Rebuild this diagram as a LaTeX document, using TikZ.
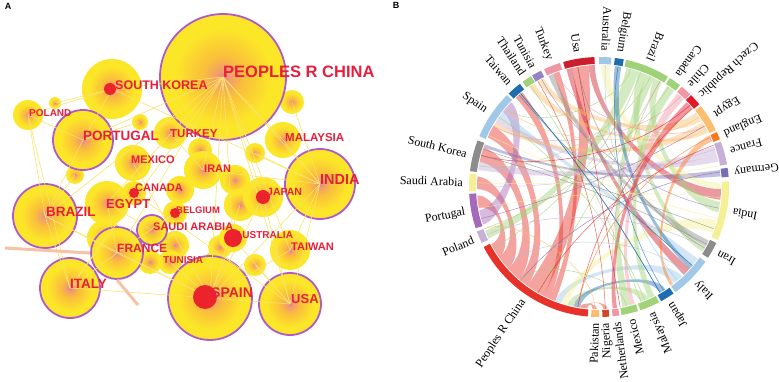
\documentclass[tikz,border=0pt]{standalone}
\usepackage{fontspec}
\setmainfont{Liberation Serif}
\setsansfont{Liberation Sans}
\usepackage{tikz}
\usetikzlibrary{calc}

\definecolor{labred}{RGB}{232,30,60}
\definecolor{ringpurple}{RGB}{175,90,200}
\definecolor{ballyellow}{RGB}{252,230,40}
\definecolor{ballrim}{RGB}{255,240,80}
\definecolor{ballpink}{RGB}{228,115,170}
\definecolor{ballorange}{RGB}{250,190,60}
\definecolor{dotred}{RGB}{235,35,45}
\definecolor{edgeyellow}{RGB}{250,228,105}
\definecolor{edgesalmon}{RGB}{245,195,165}

\definecolor{cUsa}{RGB}{205,30,45}
\definecolor{cLightBlue}{RGB}{160,200,232}
\definecolor{cDarkBlue}{RGB}{30,110,175}
\definecolor{cGreen}{RGB}{160,210,120}
\definecolor{cPink}{RGB}{240,150,165}
\definecolor{cRed}{RGB}{225,25,40}
\definecolor{cLtOrange}{RGB}{250,190,110}
\definecolor{cOrange}{RGB}{250,120,30}
\definecolor{cLtPurple}{RGB}{200,175,215}
\definecolor{cPurple}{RGB}{120,110,180}
\definecolor{cYellow}{RGB}{245,240,150}
\definecolor{cGray}{RGB}{140,140,140}
\definecolor{cChina}{RGB}{230,50,40}
\definecolor{cPortugal}{RGB}{165,105,185}
\definecolor{cNigeria}{RGB}{210,70,40}
\definecolor{cTunisia}{RGB}{150,130,195}

\pgfdeclareradialshading{citeball}{\pgfpoint{0bp}{0bp}}{color(0bp)=(ballpink); color(2bp)=(ballpink!50!ballorange); color(8bp)=(ballorange); color(19bp)=(ballyellow); color(46bp)=(ballyellow); color(50bp)=(ballrim)}

% sector of the chord ring: start, end, colour, name, text
\newcommand{\sector}[5]{%
  \draw[line width=7pt, #3] (#1:126.5) arc[start angle=#1, end angle=#2, radius=126.5];
  \node[chordlabel, rotate={(#1+#2)/2+180}] (#4) at ({(#1+#2)/2}:136) {#5};}
% ribbon between two sectors
\newcommand{\chord}[5]{%
  \pgfmathsetmacro{\chdist}{abs(mod(#3-#2+540,360)-180)}%
  \pgfmathsetmacro{\chrad}{118-0.52*\chdist}%
  \fill[#5, fill opacity=0.45] (#1:122) arc[start angle=#1, end angle=#2, radius=122]
    .. controls (#2:\chrad) and (#3:\chrad) .. (#3:122) arc[start angle=#3, end angle=#4, radius=122]
    .. controls (#4:\chrad) and (#1:\chrad) .. (#1:122) -- cycle;}
\newcommand{\chordline}[3]{%
  \pgfmathsetmacro{\chdist}{abs(mod(#2-#1+540,360)-180)}%
  \pgfmathsetmacro{\chrad}{118-0.52*\chdist}%
  \draw[#3, line width=0.5pt, opacity=0.75] (#1:122) .. controls (#1:\chrad) and (#2:\chrad) .. (#2:122);}

\tikzset{
  ball/.style={circle, shade, shading=citeball, inner sep=0pt, minimum size=2*#1},
  hub/.style={ball=#1, draw=ringpurple, line width=1.8pt},
  edge/.style={edgeyellow, line width=0.6pt},
  cntlabel/.style={text=labred, inner sep=0pt, anchor=west, font=\sffamily\bfseries\fontsize{#1}{#1}\selectfont},
  chordlabel/.style={anchor=east, inner sep=0pt, font=\fontsize{12}{12}\selectfont},
  panel/.style={font=\sffamily\bfseries\fontsize{9}{9}\selectfont, inner sep=0pt}
}

\begin{document}
\begin{tikzpicture}[x=1pt,y=1pt]
\useasboundingbox (0,0) rectangle (779,381);

\node[panel] (pa) at (8,375) {A};
\node[panel] (pb) at (396,376) {B};

% A: collaboration network
\begin{scope}[shift={(0,381)}, yscale=-1]
\node[ball=6] (y1) at (55,103) {};
\node[ball=12] (y2) at (292,102) {};
\node[ball=8] (y3) at (140,122) {};
\node[ball=10] (y4) at (255,153) {};
\node[ball=15] (y5) at (235,180) {};
\node[ball=9] (y6) at (75,175) {};
\node[ball=12] (y7) at (200,150) {};
\node[ball=14] (y8) at (180,190) {};
\node[ball=11] (y9) at (255,265) {};
\node[ball=14] (y10) at (175,245) {};
\node[ball=12] (y11) at (220,247) {};
\node[ball=18] (y12) at (105,238) {};
\node[ball=12] (y13) at (150,262) {};
\node[ball=16] (y14) at (240,205) {};
\node[ball=10] (y15) at (213,262) {};

\node[ball=30] (skorea) at (112,89) {};
\node[ball=15] (poland) at (28,115) {};
\node[ball=20] (taiwan) at (290,250) {};
\node[ball=18] (malaysia) at (283,140) {};
\node[ball=20] (japan) at (263,197) {};
\node[ball=14] (australia) at (233,238) {};
\node[ball=12] (canada) at (134,193) {};
\node[ball=12] (belgium) at (175,213) {};
\node[ball=19] (iran) at (203,170) {};
\node[ball=18] (mexico) at (133,163) {};
\node[ball=16] (turkey) at (170,133) {};
\node[ball=22] (egypt) at (107,203) {};
\node[ball=12] (tunisia) at (170,262) {};

\node[hub=63] (china) at (223,77) {};
\node[hub=30] (portugal) at (83,140) {};
\node[hub=32] (brazil) at (45,216) {};
\node[hub=15] (saudi) at (152,230) {};
\node[hub=26] (france) at (117,253) {};
\node[hub=30] (italy) at (70,288) {};
\node[hub=42] (spain) at (210,298) {};
\node[hub=31] (usa) at (290,304) {};
\node[hub=35] (india) at (320,184) {};

\coordinate (wleft) at (5,248);
\coordinate (wlow) at (138,305);

\foreach \a/\b in {china/spain, china/usa, china/india, china/skorea, china/portugal,
    china/brazil, china/italy, china/japan, china/malaysia, china/taiwan, china/australia,
    china/iran, china/egypt, china/france, spain/usa, spain/italy, spain/france, spain/brazil,
    spain/india, spain/japan, spain/taiwan, india/usa, india/malaysia, india/skorea,
    portugal/brazil, portugal/poland, poland/brazil, poland/skorea, poland/italy, brazil/italy,
    brazil/france, italy/france, skorea/portugal, usa/japan, taiwan/india, egypt/saudi,
    egypt/france, iran/india, mexico/spain, tunisia/spain, turkey/iran, canada/usa,
    belgium/france, australia/usa, australia/spain, y2/india, y6/brazil, y12/italy,
    y9/usa, y14/spain, y4/india, y1/skorea, y3/portugal}
  \draw[edge] (\a.center) -- (\b.center);
\draw[edgesalmon, line width=3pt] (wleft) -- (france.west);
\draw[edgesalmon, line width=3pt] (france.south) -- (wlow);

\fill[dotred] (110,89) circle[radius=6];
\fill[dotred] (263,197) circle[radius=7];
\fill[dotred] (233,238) circle[radius=9];
\fill[dotred] (134,193) circle[radius=5];
\fill[dotred] (175,213) circle[radius=5];
\fill[dotred] (205,297) circle[radius=12];

\node[cntlabel=16.5] (lchina) at (223,72) {PEOPLES R CHINA};
\node[cntlabel=12.5] (lskorea) at (115,85) {SOUTH KOREA};
\node[cntlabel=10] (lpoland) at (29,113) {POLAND};
\node[cntlabel=13.5] (lportugal) at (83,136) {PORTUGAL};
\node[cntlabel=11.5] (lturkey) at (170,134) {TURKEY};
\node[cntlabel=11.5] (lmalaysia) at (285,138) {MALAYSIA};
\node[cntlabel=11] (lmexico) at (131,160) {MEXICO};
\node[cntlabel=11] (liran) at (204,169) {IRAN};
\node[cntlabel=14.5] (lindia) at (320,180) {INDIA};
\node[cntlabel=11] (lcanada) at (135,188) {CANADA};
\node[cntlabel=10.5] (ljapan) at (267,192) {JAPAN};
\node[cntlabel=13] (legypt) at (106,204) {EGYPT};
\node[cntlabel=13.5] (lbrazil) at (46,212) {BRAZIL};
\node[cntlabel=9.5] (lbelgium) at (176,210) {BELGIUM};
\node[cntlabel=11] (lsaudi) at (153,227) {SAUDI ARABIA};
\node[cntlabel=10] (laustralia) at (235,235) {AUSTRALIA};
\node[cntlabel=11] (ltaiwan) at (291,247) {TAIWAN};
\node[cntlabel=12] (lfrance) at (117,248) {FRANCE};
\node[cntlabel=10] (ltunisia) at (163,260) {TUNISIA};
\node[cntlabel=13.5] (litaly) at (70,284) {ITALY};
\node[cntlabel=14] (lspain) at (211,293) {SPAIN};
\node[cntlabel=13] (lusa) at (291,299) {USA};
\end{scope}

% B: chord diagram
\begin{scope}[shift={(599,194)}]
\chord{-152}{-145}{184}{190}{cChina}
\chord{-145}{-138}{175}{181}{cChina}
\chord{-138}{-131}{161}{168}{cChina}
\chord{-131}{-126}{150}{156}{cChina}
\chord{-126}{-117}{95}{103}{cChina}
\chord{-117}{-114}{129}{133}{cChina}
\chord{-114}{-111}{109}{112}{cChina}
\chord{-111}{-108}{-52}{-47}{cLightBlue}
\chord{-108}{-105}{-22}{-16}{cYellow}
\chord{-105}{-102}{-70}{-66}{cGreen}
\chord{-102}{-99}{-60}{-57}{cDarkBlue}
\chord{-99}{-97}{-93}{-91}{cChina}
\chord{-97}{-95.5}{-88}{-86}{cNigeria}
\chord{136}{142}{191}{198}{cPortugal}
\chord{142}{145}{-40}{-36}{cLightBlue}
\chord{145}{148}{12}{15}{cLtPurple}
\chord{148}{150}{28}{32}{cLtOrange}
\chord{92}{95}{-6}{-1}{cUsa}
\chord{103}{105.5}{-46}{-42}{cUsa}
\chord{59}{63}{-12}{-7}{cGreen}
\chord{63}{67}{-79}{-75}{cGreen}
\chord{67}{71}{-32}{-29}{cGreen}
\chord{71}{77}{201}{205}{cGreen}
\chord{33}{37.5}{117}{120}{cLtOrange}
\chord{26.5}{28}{122}{125}{cLtOrange}
\chord{15}{19.5}{168}{172}{cLtPurple}
\chord{5}{8}{159.5}{161}{cPurple}
\chord{-1}{2}{85}{89}{cYellow}
\chord{-29}{-26}{112}{114.5}{cGray}
\chord{-42}{-40}{79.5}{82.5}{cDarkBlue}
\chord{52}{56}{-66}{-63}{cGreen}
\chord{46}{50}{-75}{-73}{cPink}
\chord{40}{44}{-83.5}{-81.5}{cRed}
\chord{22}{25}{-54}{-52.5}{cOrange}

\chordline{81}{-58}{cDarkBlue}
\chordline{87}{-50}{cLightBlue}
\chordline{130}{-60}{cDarkBlue}
\chordline{131}{-40}{cDarkBlue}
\chordline{124}{-70}{cGreen}
\chordline{118}{-10}{cTunisia}
\chordline{110}{30}{cPink}
\chordline{100}{-80}{cUsa}
\chordline{65}{170}{cGreen}
\chordline{70}{-150}{cGreen}
\chordline{75}{140}{cGreen}
\chordline{60}{-120}{cGreen}
\chordline{55}{200}{cGreen}
\chordline{48}{150}{cPink}
\chordline{42}{165}{cRed}
\chordline{35}{140}{cLtOrange}
\chordline{24}{-100}{cOrange}
\chordline{18}{180}{cLtPurple}
\chordline{7}{-130}{cPurple}
\chordline{-5}{190}{cYellow}
\chordline{-15}{155}{cYellow}
\chordline{-28}{165}{cGray}
\chordline{-30}{100}{cGray}
\chordline{-45}{-140}{cLightBlue}
\chordline{-60}{130}{cDarkBlue}
\chordline{-68}{145}{cGreen}
\chordline{-77}{-130}{cGreen}
\chordline{-82}{60}{cPink}
\chordline{-87}{120}{cNigeria}
\chordline{-92}{200}{cLtOrange}
\chordline{195}{30}{cPortugal}
\chordline{162}{-20}{cGray}
\chordline{178}{10}{cYellow}
\chordline{203}{-30}{cLtPurple}
\chordline{-120}{20}{cChina}
\chordline{-100}{40}{cChina}

\sector{92}{106}{cUsa}{susa}{Usa}
\sector{84.5}{90}{cLightBlue}{saus}{Australia}
\sector{79}{83}{cDarkBlue}{sbel}{Belgium}
\sector{58}{78}{cGreen}{sbra}{Brazil}
\sector{51.5}{57}{cGreen}{scan}{Canada}
\sector{45.5}{50.5}{cPink}{schi}{Chile}
\sector{39.5}{45}{cRed}{scze}{Czech Republic}
\sector{26}{38.5}{cLtOrange}{segy}{Egypt}
\sector{21.5}{25}{cOrange}{seng}{England}
\sector{10}{20.5}{cLtPurple}{sfra}{France}
\sector{4.5}{8.5}{cPurple}{sger}{Germany}
\sector{-24}{2.5}{cYellow}{sind}{India}
\sector{-33}{-25.5}{cGray}{siri}{Iran}
\sector{-54}{-35}{cLightBlue}{sita}{Italy}
\sector{-61.5}{-55}{cDarkBlue}{sjap}{Japan}
\sector{-71.5}{-62.5}{cGreen}{smal}{Malaysia}
\sector{-80}{-72.5}{cGreen}{smex}{Mexico}
\sector{-84}{-81}{cPink}{snet}{Netherlands}
\sector{-88.5}{-85.5}{cNigeria}{snig}{Nigeria}
\sector{-93.5}{-90}{cLtOrange}{spak}{Pakistan}
\sector{-152.5}{-95}{cChina}{sprc}{Peoples R China}
\sector{200}{205.5}{cLtPurple}{spol}{Poland}
\sector{183}{198.5}{cPortugal}{spor}{Portugal}
\sector{174}{182}{cYellow}{ssau}{Saudi Arabia}
\sector{159}{173}{cGray}{ssko}{South Korea}
\sector{135}{157}{cLightBlue}{sspa}{Spain}
\sector{127.5}{134}{cDarkBlue}{stai}{Taiwan}
\sector{121.5}{126}{cGreen}{stha}{Thailand}
\sector{116.5}{121}{cTunisia}{stun}{Tunisia}
\sector{107.5}{115}{cPink}{stur}{Turkey}
\end{scope}
\end{tikzpicture}
\end{document}
